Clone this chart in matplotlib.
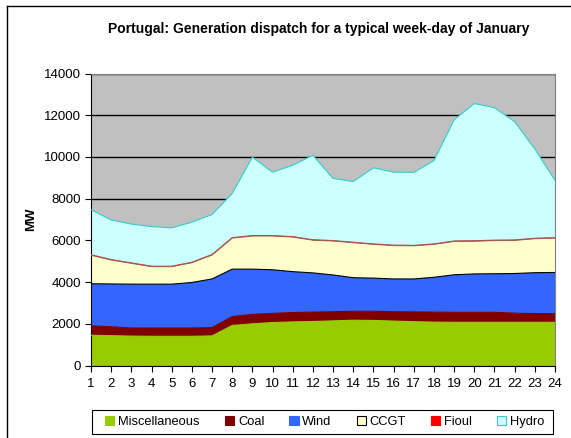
import matplotlib
matplotlib.use("Agg")
import matplotlib.pyplot as plt
from matplotlib.lines import Line2D
from matplotlib.patches import Patch, Rectangle
import numpy as np

plt.rcParams['font.family'] = ['Liberation Sans', 'DejaVu Sans']

hours = list(range(1, 25))

# hourly dispatch per technology, MW (stacked bottom to top)
misc = [1450, 1430, 1410, 1400, 1400, 1400, 1420, 1920, 2000, 2060, 2090, 2110,
        2140, 2170, 2160, 2130, 2100, 2080, 2070, 2070, 2070, 2070, 2070, 2070]
coal = [450, 430, 390, 400, 400, 400, 400, 430, 450, 440, 450, 450,
        440, 430, 440, 450, 470, 480, 480, 480, 480, 440, 420, 420]
wind = [2020, 2050, 2100, 2100, 2100, 2180, 2330, 2270, 2170, 2090, 1960, 1880,
        1760, 1610, 1590, 1570, 1580, 1670, 1800, 1840, 1850, 1900, 1960, 1970]
ccgt = [1370, 1150, 1000, 840, 840, 950, 1150, 1490, 1590, 1620, 1660, 1570,
        1630, 1680, 1620, 1600, 1590, 1580, 1600, 1570, 1590, 1590, 1630, 1650]
fioul = [20] * 24
hydro = [2160, 1900, 1860, 1900, 1840, 1920, 1920, 2120, 3760, 3040, 3420, 4050,
         2980, 2910, 3650, 3500, 3500, 3990, 5810, 6580, 6350, 5670, 4280, 2750]

names = ['Miscellaneous', 'Coal', 'Wind', 'CCGT', 'Fioul', 'Hydro']
fills = ['#99CC00', '#800000', '#3366FF', '#FFFFCC', '#FF0000', '#CCFFFF']
edges = ['#99CC00', '#800000', '#000000', '#9A6A6A', '#B05050', '#33CCCC']
legend_edges = ['#99CC00', '#800000', '#3366FF', '#000000', '#FF0000', '#33CCCC']

W, H = 571, 438
fig = plt.figure(figsize=(W / 100, H / 100), dpi=100)
ax = fig.add_axes([91 / W, (H - 365.5) / H, 464 / W, 292 / H])
ax.set_facecolor('#C0C0C0')

series = [misc, coal, wind, ccgt, fioul, hydro]
base = np.zeros(len(hours))
for vals, fc, ec in zip(series, fills, edges):
    top = base + np.array(vals)
    ax.fill_between(hours, base, top, facecolor=fc, edgecolor='none', zorder=2)
    ax.plot(hours, top, color=ec, lw=0.8, zorder=3)
    base = top

ax.set_xlim(1, 24)
ax.set_ylim(0, 14000)
ax.set_yticks(range(0, 14001, 2000))
ax.set_xticks(hours)
ax.yaxis.grid(True, color='black', lw=1.0, zorder=1)
ax.set_axisbelow(True)
for s in ax.spines.values():
    s.set_color('#808080')
ax.spines['left'].set_color('black')
ax.spines['bottom'].set_color('black')
ax.tick_params(axis='both', labelsize=9.5, length=4, width=0.8, direction='out', pad=3)
ax.tick_params(axis='x', pad=5)

ax.set_ylabel('MW', fontsize=9.5, fontweight='bold', labelpad=5)
fig.text(319 / W, 1 - 29 / H, 'Portugal: Generation dispatch for a typical week-day of January',
         ha='center', va='center', fontsize=10, fontweight='bold')

# legend box drawn separately so its size is fixed
fig.add_artist(Rectangle((92 / W, 1 - 434 / H), 461 / W, 24 / H, transform=fig.transFigure,
                         facecolor='white', edgecolor='black', lw=0.8))
handles = [Patch(facecolor=fc, edgecolor=ec, lw=0.8) for fc, ec in zip(fills, legend_edges)]
leg = fig.legend(handles, names, loc='center', ncol=6,
                 bbox_to_anchor=(325 / W, 1 - 422 / H),
                 fontsize=9.3, frameon=False,
                 handlelength=0.7, handleheight=0.7, handletextpad=0.3,
                 columnspacing=1.95, borderpad=0, borderaxespad=0)

# outer frame (left and top edges)
fig.add_artist(Line2D([7 / W, 7 / W], [0, 1 - 6 / H], color='black', lw=1.0))
fig.add_artist(Line2D([7 / W, 1], [1 - 6 / H, 1 - 6 / H], color='black', lw=1.0))

fig.savefig('out.png', dpi=100)
